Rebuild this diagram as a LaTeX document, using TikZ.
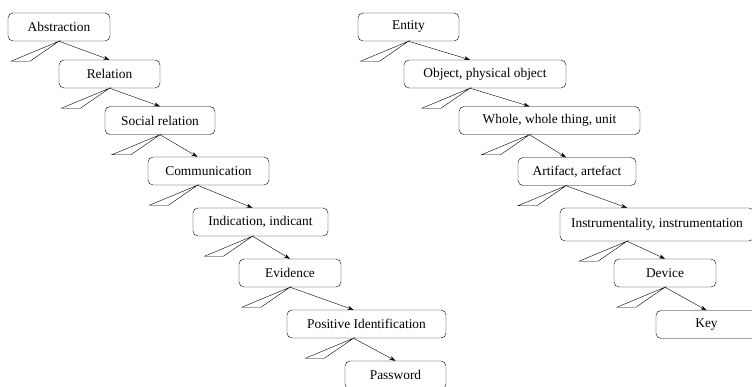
\documentclass[tikz,border=0pt]{standalone}
\usepackage{fontspec}
\setmainfont{Liberation Serif}
\usetikzlibrary{arrows.meta}

\begin{document}
\begin{tikzpicture}[
        x=1pt, y=-1pt,
        box/.style={draw, rounded corners=5pt, minimum height=28pt, inner sep=0pt, font=\fontsize{13.4}{16}\selectfont},
        isa/.style={-{Stealth[length=6pt, width=4pt]}, thin},
        wedge/.style={draw, thin},
    ]
    \useasboundingbox (0,0) rectangle (752,386);

    % abstraction branch
    \node[box, minimum width=102pt] (abs) at (59,27) {Abstraction};
    \node[box, minimum width=101pt] (rel) at (109.5,74) {Relation};
    \node[box, minimum width=110pt] (soc) at (160,120.5) {Social relation};
    \node[box, minimum width=121pt] (com) at (208.5,171) {Communication};
    \node[box, minimum width=135pt] (ind) at (260.5,222) {Indication, indicant};
    \node[box, minimum width=102pt] (evi) at (290,273) {Evidence};
    \node[box, minimum width=159pt] (pos) at (366.5,324) {Positive Identification};
    \node[box, minimum width=101pt] (pas) at (395.5,375) {Password};

    \path[isa]
    (abs.south) edge (rel.north)
    (rel.south) edge (soc.north)
    (soc.south) edge ([xshift=-11pt]com.north)
    ([xshift=-11pt]com.south) edge ([xshift=-8pt]ind.north)
    ([xshift=-8pt]ind.south) edge (evi.north)
    (evi.south) edge ([xshift=-13pt]pos.north)
    ([xshift=-13pt]pos.south) edge (pas.north)
    ;

    \draw[wedge] (abs.south) -- ++(-48,20) -- ++(19,0) -- cycle;
    \draw[wedge] (rel.south) -- ++(-48,20) -- ++(19,0) -- cycle;
    \draw[wedge] (soc.south) -- ++(-48,20) -- ++(19,0) -- cycle;
    \draw[wedge] ([xshift=-11pt]com.south) -- ++(-48,20) -- ++(19,0) -- cycle;
    \draw[wedge] ([xshift=-8pt]ind.south) -- ++(-48,20) -- ++(19,0) -- cycle;
    \draw[wedge] (evi.south) -- ++(-48,20) -- ++(19,0) -- cycle;
    \draw[wedge] ([xshift=-13pt]pos.south) -- ++(-48,20) -- ++(19,0) -- cycle;

    % entity branch
    \node[box, minimum width=101pt] (ent) at (408.5,27) {Entity};
    \node[box, minimum width=162pt] (obj) at (485,74) {Object, physical object};
    \node[box, minimum width=181pt] (who) at (549.5,120.5) {Whole, whole thing, unit};
    \node[box, minimum width=118pt] (art) at (577,171.5) {Artifact, artefact};
    \node[box, minimum width=194pt, minimum height=33pt] (ins) at (657,224.5) {Instrumentality, instrumentation};
    \node[box, minimum width=102pt] (dev) at (665,273) {Device};
    \node[box, minimum width=101pt] (key) at (706.5,324.5) {Key};

    \path[isa]
    (ent.south) edge ([xshift=-15pt]obj.north)
    ([xshift=-15pt]obj.south) edge ([xshift=-20pt]who.north)
    ([xshift=-20pt]who.south) edge ([xshift=-11pt]art.north)
    ([xshift=-11pt]art.south) edge ([xshift=-30pt]ins.north)
    ([xshift=-30pt]ins.south) edge (dev.north)
    (dev.south) edge (key.north)
    ;

    \draw[wedge] (ent.south) -- ++(-48,20) -- ++(19,0) -- cycle;
    \draw[wedge] ([xshift=-15pt]obj.south) -- ++(-48,20) -- ++(19,0) -- cycle;
    \draw[wedge] ([xshift=-20pt]who.south) -- ++(-48,20) -- ++(19,0) -- cycle;
    \draw[wedge] ([xshift=-11pt]art.south) -- ++(-48,20) -- ++(19,0) -- cycle;
    \draw[wedge] ([xshift=-30pt]ins.south) -- ++(-48,20) -- ++(19,0) -- cycle;
    \draw[wedge] (dev.south) -- ++(-48,20) -- ++(19,0) -- cycle;
\end{tikzpicture}
\end{document}
